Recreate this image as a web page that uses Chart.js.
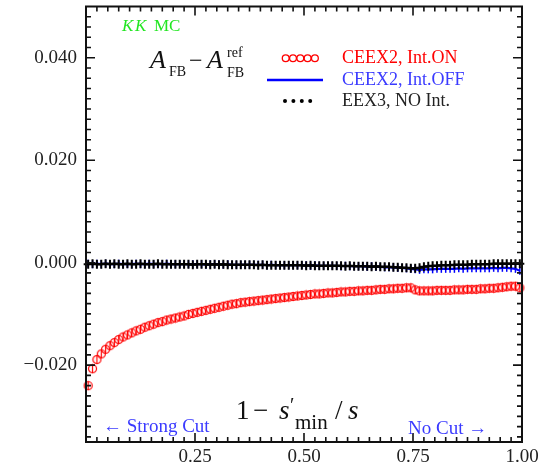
<!DOCTYPE html>
<html>
<head>
<meta charset="utf-8">
<script src="https://cdn.jsdelivr.net/npm/chart.js@4.4.0/dist/chart.umd.min.js"></script>
<style>
  html, body { margin: 0; padding: 0; background: #fff; }
  #wrap { width: 552px; height: 470px; position: relative; }
</style>
</head>
<body>
<div id="wrap"><canvas id="afb"></canvas></div>
<script>
// --- bin centres in 1 - s'min/s ---
const xBins = [
  0.005, 0.015, 0.025, 0.035, 0.045, 0.055, 0.065, 0.075, 0.085, 0.095,
  0.105, 0.115, 0.125, 0.135, 0.145, 0.155, 0.165, 0.175, 0.185, 0.195,
  0.205, 0.215, 0.225, 0.235, 0.245, 0.255, 0.265, 0.275, 0.285, 0.295,
  0.305, 0.315, 0.325, 0.335, 0.345, 0.355, 0.365, 0.375, 0.385, 0.395,
  0.405, 0.415, 0.425, 0.435, 0.445, 0.455, 0.465, 0.475, 0.485, 0.495,
  0.505, 0.515, 0.525, 0.535, 0.545, 0.555, 0.565, 0.575, 0.585, 0.595,
  0.605, 0.615, 0.625, 0.635, 0.645, 0.655, 0.665, 0.675, 0.685, 0.695,
  0.705, 0.715, 0.725, 0.735, 0.745, 0.755, 0.765, 0.775, 0.785, 0.795,
  0.805, 0.815, 0.825, 0.835, 0.845, 0.855, 0.865, 0.875, 0.885, 0.895,
  0.905, 0.915, 0.925, 0.935, 0.945, 0.955, 0.965, 0.975, 0.985, 0.995
];

// CEEX2, Int.ON
const ceexIntOn = [
  -0.0240, -0.0207, -0.0189, -0.0178, -0.0169, -0.0162, -0.0156, -0.0150, -0.0145, -0.0141,
  -0.0137, -0.0133, -0.0130, -0.0126, -0.0123, -0.0120, -0.0117, -0.0115, -0.0112, -0.0110,
  -0.0108, -0.0106, -0.0104, -0.0101, -0.0099, -0.0097, -0.0095, -0.0093, -0.0091, -0.0089,
  -0.0087, -0.0085, -0.0083, -0.0081, -0.0080, -0.0078, -0.0077, -0.0076, -0.0075, -0.0074,
  -0.0073, -0.0072, -0.0071, -0.0070, -0.0069, -0.0068, -0.0067, -0.0066, -0.0065, -0.0064,
  -0.0063, -0.0062, -0.0061, -0.0061, -0.0060, -0.0059, -0.0059, -0.0058, -0.0057, -0.0057,
  -0.0056, -0.0056, -0.0055, -0.0055, -0.0054, -0.0054, -0.0053, -0.0052, -0.0052, -0.0051,
  -0.0051, -0.0050, -0.0050, -0.0049, -0.0049, -0.0053, -0.0055, -0.0055, -0.0055, -0.0055,
  -0.0054, -0.0054, -0.0054, -0.0054, -0.0053, -0.0053, -0.0053, -0.0052, -0.0052, -0.0052,
  -0.0051, -0.0051, -0.0050, -0.0050, -0.0049, -0.0048, -0.0047, -0.0046, -0.0046, -0.0049
];

// CEEX2, Int.OFF
const ceexIntOff = [
  -0.0002, -0.0003, -0.0002, -0.0003, -0.0002, -0.0003, -0.0003, -0.0002, -0.0003, -0.0003,
  -0.0003, -0.0002, -0.0003, -0.0003, -0.0002, -0.0003, -0.0003, -0.0003, -0.0002, -0.0003,
  -0.0003, -0.0003, -0.0003, -0.0003, -0.0003, -0.0003, -0.0003, -0.0004, -0.0003, -0.0003,
  -0.0003, -0.0004, -0.0003, -0.0004, -0.0004, -0.0004, -0.0004, -0.0004, -0.0004, -0.0004,
  -0.0004, -0.0005, -0.0004, -0.0005, -0.0005, -0.0005, -0.0005, -0.0005, -0.0005, -0.0005,
  -0.0005, -0.0006, -0.0005, -0.0006, -0.0006, -0.0006, -0.0006, -0.0006, -0.0007, -0.0006,
  -0.0007, -0.0007, -0.0007, -0.0007, -0.0008, -0.0007, -0.0008, -0.0008, -0.0009, -0.0009,
  -0.0009, -0.0010, -0.0010, -0.0011, -0.0012, -0.0013, -0.0014, -0.0013, -0.0013, -0.0013,
  -0.0012, -0.0012, -0.0012, -0.0012, -0.0012, -0.0011, -0.0012, -0.0011, -0.0011, -0.0011,
  -0.0011, -0.0011, -0.0011, -0.0010, -0.0011, -0.0010, -0.0010, -0.0011, -0.0012, -0.0016
];

// EEX3, NO Int.
const eexNoInt = [
  -0.0003, -0.0002, -0.0003, -0.0003, -0.0002, -0.0003, -0.0002, -0.0003, -0.0003, -0.0002,
  -0.0003, -0.0003, -0.0002, -0.0003, -0.0003, -0.0003, -0.0002, -0.0003, -0.0003, -0.0003,
  -0.0003, -0.0003, -0.0003, -0.0003, -0.0004, -0.0003, -0.0003, -0.0003, -0.0004, -0.0003,
  -0.0004, -0.0003, -0.0004, -0.0004, -0.0004, -0.0004, -0.0004, -0.0004, -0.0004, -0.0005,
  -0.0004, -0.0005, -0.0005, -0.0005, -0.0005, -0.0005, -0.0005, -0.0005, -0.0005, -0.0005,
  -0.0006, -0.0005, -0.0006, -0.0006, -0.0006, -0.0006, -0.0006, -0.0006, -0.0006, -0.0007,
  -0.0006, -0.0007, -0.0007, -0.0007, -0.0007, -0.0008, -0.0007, -0.0008, -0.0008, -0.0008,
  -0.0009, -0.0009, -0.0010, -0.0010, -0.0011, -0.0011, -0.0010, -0.0008, -0.0007, -0.0006,
  -0.0006, -0.0005, -0.0005, -0.0005, -0.0004, -0.0004, -0.0004, -0.0004, -0.0003, -0.0003,
  -0.0003, -0.0003, -0.0003, -0.0002, -0.0002, -0.0002, -0.0002, -0.0002, -0.0002, -0.0002
];

const xTickValues = [0.25, 0.5, 0.75, 1.0];
const yTickValues = [-0.02, 0.0, 0.02, 0.04];

const SERIF = '"Liberation Serif", "DejaVu Serif", serif';
const RED = '#ff0000';
const BLUE = '#0000ff';
const TXT_BLUE = '#3a3aff';

const pts = (ys) => xBins.map((x, i) => ({ x, y: ys[i] }));

// circle with a vertical error bar through it
const ringBar = (() => {
  const c = document.createElement('canvas');
  c.width = 11; c.height = 11;
  const g = c.getContext('2d');
  g.strokeStyle = RED;
  g.lineWidth = 1.2;
  g.beginPath();
  g.arc(5.5, 5.5, 4.0, 0, Math.PI * 2);
  g.stroke();
  g.beginPath();
  g.moveTo(5.5, 0.8);
  g.lineTo(5.5, 10.2);
  g.stroke();
  return c;
})();

// frame plus inward ticks on all four sides
const frameTicks = {
  id: 'frameTicks',
  afterDatasetsDraw(chart) {
    const { ctx, chartArea: a, scales: { x, y } } = chart;
    ctx.save();
    ctx.strokeStyle = '#111';
    ctx.lineWidth = 1.6;
    ctx.beginPath();
    for (let k = 1; k < 40; k++) {
      const px = x.getPixelForValue(k * 0.025);
      const len = k % 10 === 0 ? 9 : 5;
      ctx.moveTo(px, a.bottom); ctx.lineTo(px, a.bottom - len);
      ctx.moveTo(px, a.top); ctx.lineTo(px, a.top + len);
    }
    for (let k = -17; k < 25; k++) {
      const py = y.getPixelForValue(k * 0.002);
      const len = k % 10 === 0 ? 9 : 5;
      ctx.moveTo(a.left, py); ctx.lineTo(a.left + len, py);
      ctx.moveTo(a.right, py); ctx.lineTo(a.right - len, py);
    }
    ctx.stroke();
    ctx.lineWidth = 2;
    ctx.strokeRect(a.left, a.top, a.width, a.height);
    ctx.restore();
  }
};

// labels, formula and legend drawn onto the plot
const annotations = {
  id: 'annotations',
  afterDraw(chart) {
    const ctx = chart.ctx;
    const put = (s, x, y, font, color) => {
      ctx.font = font;
      ctx.fillStyle = color;
      ctx.fillText(s, x, y);
    };
    ctx.save();
    ctx.textBaseline = 'alphabetic';
    ctx.textAlign = 'left';

    put('K', 122, 31, `italic 17px ${SERIF}`, '#22e622');
    put('K', 135, 31, `italic 17px ${SERIF}`, '#22e622');
    put('MC', 154, 31, `17px ${SERIF}`, '#22e622');

    // A_FB - A_FB^ref
    put('A', 150, 68, `italic 26px ${SERIF}`, '#111');
    put('FB', 169, 76, `14px ${SERIF}`, '#111');
    put('\u2212', 189, 68, `24px ${SERIF}`, '#111');
    put('A', 207, 68, `italic 26px ${SERIF}`, '#111');
    put('ref', 227, 57, `14px ${SERIF}`, '#111');
    put('FB', 227, 77, `14px ${SERIF}`, '#111');

    // legend
    ctx.strokeStyle = RED;
    ctx.lineWidth = 1.3;
    for (let k = 0; k < 5; k++) {
      ctx.beginPath();
      ctx.arc(285.7 + k * 7.3, 58.3, 3.4, 0, Math.PI * 2);
      ctx.stroke();
    }
    put('CEEX2, Int.ON', 342, 63, `18px ${SERIF}`, RED);
    ctx.strokeStyle = BLUE;
    ctx.lineWidth = 2.5;
    ctx.beginPath();
    ctx.moveTo(267, 80); ctx.lineTo(323, 80);
    ctx.stroke();
    put('CEEX2, Int.OFF', 342, 85, `18px ${SERIF}`, TXT_BLUE);
    ctx.fillStyle = '#000';
    for (let k = 0; k < 4; k++) {
      ctx.beginPath();
      ctx.arc(285 + k * 8.4, 101, 2, 0, Math.PI * 2);
      ctx.fill();
    }
    put('EEX3, NO Int.', 342, 106, `18px ${SERIF}`, '#222');

    // axis title 1 - s'min/s
    put('1', 236, 419, `27px ${SERIF}`, '#111');
    put('\u2212', 253, 419, `27px ${SERIF}`, '#111');
    put('s', 279, 419, `italic 27px ${SERIF}`, '#111');
    put('\u2032', 290, 412, `20px ${SERIF}`, '#111');
    put('min', 295, 429, `21px ${SERIF}`, '#111');
    put('/', 335, 419, `27px ${SERIF}`, '#111');
    put('s', 348, 419, `italic 27px ${SERIF}`, '#111');

    put('\u2190 Strong Cut', 103, 432, `19px ${SERIF}`, TXT_BLUE);
    put('No Cut \u2192', 408, 434, `19px ${SERIF}`, TXT_BLUE);
    ctx.restore();
  }
};

new Chart(document.getElementById('afb'), {
  type: 'line',
  data: {
    datasets: [
      {
        label: 'CEEX2, Int.ON',
        data: pts(ceexIntOn),
        order: 3,
        showLine: false,
        pointStyle: ringBar,
        pointRadius: 5
      },
      {
        label: 'CEEX2, Int.OFF',
        data: pts(ceexIntOff),
        order: 2,
        borderColor: BLUE,
        borderWidth: 2.2,
        pointStyle: 'line',
        rotation: 90,
        pointRadius: 4,
        pointBorderWidth: 1.5,
        pointBorderColor: BLUE
      },
      {
        label: 'EEX3, NO Int.',
        data: pts(eexNoInt),
        order: 1,
        borderColor: '#000',
        borderWidth: 2.2,
        pointStyle: 'cross',
        pointRadius: 4.5,
        pointBorderWidth: 2,
        pointBorderColor: '#000'
      }
    ]
  },
  options: {
    responsive: true,
    maintainAspectRatio: false,
    animation: false,
    clip: false,
    layout: { padding: { left: 0, right: 30, top: 6, bottom: 0 } },
    plugins: { legend: { display: false }, tooltip: { enabled: false } },
    scales: {
      x: {
        type: 'linear',
        min: 0,
        max: 1,
        grid: { display: false, drawTicks: false },
        border: { display: false },
        afterBuildTicks: (s) => { s.ticks = xTickValues.map(v => ({ value: v })); },
        afterFit: (s) => { s.height = 28; s.paddingLeft = 0; s.paddingRight = 0; },
        ticks: {
          padding: 4,
          maxRotation: 0,
          color: '#222',
          font: { family: SERIF, size: 19 },
          callback: (v) => Number(v).toFixed(2)
        }
      },
      y: {
        type: 'linear',
        min: -0.035,
        max: 0.05,
        grid: { display: false, drawTicks: false },
        border: { display: false },
        afterBuildTicks: (s) => { s.ticks = yTickValues.map(v => ({ value: v })); },
        afterFit: (s) => { s.width = 86; s.paddingTop = 0; s.paddingBottom = 0; },
        ticks: {
          padding: 9,
          color: '#222',
          font: { family: SERIF, size: 19 },
          callback: (v) => Number(v).toFixed(3).replace('-', '\u2212')
        }
      }
    }
  },
  plugins: [frameTicks, annotations]
});
</script>
</body>
</html>
